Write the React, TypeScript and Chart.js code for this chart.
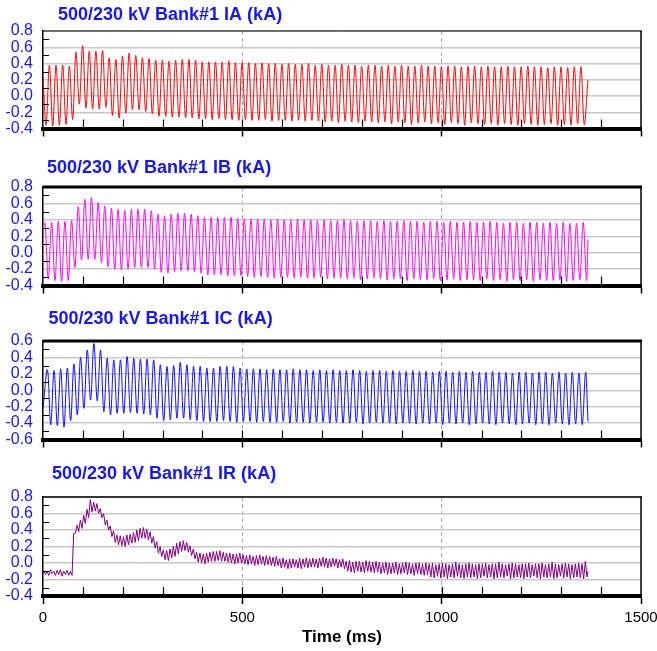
import React, { useEffect, useRef } from 'react';
import { Chart, registerables } from 'chart.js';

Chart.register(...registerables);

// ---------------- DATA ----------------
const TITLES = [
  '500/230 kV Bank#1 IA (kA)',
  '500/230 kV Bank#1 IB (kA)',
  '500/230 kV Bank#1 IC (kA)',
  '500/230 kV Bank#1 IR (kA)',
];
const X_AXIS_TITLE = 'Time (ms)';
const X_MIN = 0;
const X_MAX = 1500;
const X_MAJOR_STEP = 500;
const X_MINOR_STEP = 100;
const Y_STEP = 0.2;
const Y_RANGE_ABC = [-0.4, 0.8];
const Y_RANGE_C = [-0.6, 0.6];
const Y_RANGE_R = [-0.4, 0.8];

const RECORD_END_MS = 1367;
const CYCLE_MS = 1000 / 60;   // 60 Hz phase current
const RIPPLE_MS = 1000 / 120; // residual ripple

// IA: first extreme is a trough at 7.7 ms, then peak, alternating every half cycle
const IA_START = 0.25;
const IA_END = 0.2;
const IA_FIRST_MS = 7.7;
const IA_TROUGHS = [
  -0.36, -0.37, -0.36, -0.35, -0.29, -0.10, -0.15, -0.16, -0.16, -0.14,
  -0.24, -0.27, -0.21, -0.17, -0.17, -0.19, -0.22, -0.25, -0.25, -0.26,
  -0.26, -0.27, -0.27, -0.28, -0.28, -0.29, -0.28, -0.29, -0.29, -0.30,
  -0.29, -0.30, -0.30, -0.29, -0.31, -0.30, -0.30, -0.31, -0.30, -0.31,
  -0.30, -0.31, -0.32, -0.31, -0.33, -0.31, -0.32, -0.33, -0.31, -0.32,
  -0.33, -0.32, -0.34, -0.32, -0.33, -0.35, -0.33, -0.32, -0.34, -0.33,
  -0.35, -0.33, -0.34, -0.36, -0.33, -0.34, -0.35, -0.34, -0.36, -0.34,
  -0.35, -0.36, -0.34, -0.35, -0.36, -0.35, -0.34, -0.36, -0.35, -0.36,
  -0.34, -0.35,
];
const IA_PEAKS = [
  0.38, 0.38, 0.38, 0.37, 0.54, 0.62, 0.55, 0.55, 0.56, 0.47,
  0.45, 0.49, 0.53, 0.50, 0.47, 0.46, 0.44, 0.44, 0.43, 0.44,
  0.45, 0.45, 0.44, 0.42, 0.42, 0.42, 0.42, 0.43, 0.41, 0.41,
  0.41, 0.40, 0.41, 0.40, 0.40, 0.39, 0.40, 0.39, 0.39, 0.40,
  0.38, 0.39, 0.38, 0.38, 0.39, 0.38, 0.38, 0.37, 0.38, 0.38,
  0.37, 0.38, 0.37, 0.38, 0.37, 0.37, 0.38, 0.37, 0.37, 0.36,
  0.37, 0.37, 0.36, 0.37, 0.37, 0.36, 0.37, 0.36, 0.36, 0.37,
  0.36, 0.36, 0.37, 0.36, 0.36, 0.35, 0.36, 0.36, 0.35, 0.36,
  0.36,
];

// IB: first extreme is a peak at 5 ms
const IB_START = 0.3;
const IB_END = 0.16;
const IB_FIRST_MS = 5;
const IB_PEAKS = [
  0.36, 0.37, 0.38, 0.38, 0.39, 0.56, 0.65, 0.67, 0.61, 0.57,
  0.54, 0.53, 0.52, 0.53, 0.53, 0.53, 0.51, 0.47, 0.45, 0.47,
  0.48, 0.48, 0.47, 0.45, 0.43, 0.43, 0.43, 0.43, 0.43, 0.42,
  0.41, 0.41, 0.41, 0.41, 0.40, 0.41, 0.40, 0.40, 0.41, 0.40,
  0.40, 0.39, 0.40, 0.39, 0.39, 0.40, 0.39, 0.38, 0.39, 0.39,
  0.38, 0.39, 0.38, 0.38, 0.39, 0.38, 0.38, 0.37, 0.38, 0.38,
  0.37, 0.38, 0.37, 0.37, 0.38, 0.37, 0.37, 0.38, 0.37, 0.36,
  0.37, 0.37, 0.36, 0.37, 0.37, 0.36, 0.37, 0.36, 0.37, 0.36,
  0.36, 0.37,
];
const IB_TROUGHS = [
  -0.32, -0.34, -0.35, -0.34, -0.18, -0.09, -0.08, -0.08, -0.12, -0.17,
  -0.20, -0.21, -0.20, -0.18, -0.18, -0.18, -0.20, -0.24, -0.25, -0.23,
  -0.22, -0.22, -0.23, -0.25, -0.27, -0.27, -0.27, -0.28, -0.28, -0.28,
  -0.29, -0.30, -0.29, -0.30, -0.31, -0.30, -0.30, -0.31, -0.30, -0.31,
  -0.31, -0.30, -0.32, -0.31, -0.31, -0.32, -0.31, -0.33, -0.32, -0.31,
  -0.32, -0.33, -0.32, -0.32, -0.34, -0.32, -0.33, -0.33, -0.32, -0.34,
  -0.33, -0.32, -0.34, -0.33, -0.33, -0.34, -0.32, -0.34, -0.33, -0.35,
  -0.33, -0.34, -0.33, -0.35, -0.33, -0.34, -0.34, -0.33, -0.35, -0.34,
  -0.33, -0.34,
];

// IC: first extreme is a peak at 11 ms
const IC_START = -0.22;
const IC_END = -0.38;
const IC_FIRST_MS = 11;
const IC_PEAKS = [
  0.25, 0.24, 0.26, 0.27, 0.32, 0.40, 0.49, 0.57, 0.49, 0.39,
  0.37, 0.37, 0.41, 0.39, 0.38, 0.38, 0.37, 0.31, 0.29, 0.30,
  0.34, 0.31, 0.29, 0.29, 0.27, 0.27, 0.29, 0.29, 0.29, 0.27,
  0.26, 0.26, 0.26, 0.25, 0.26, 0.25, 0.25, 0.26, 0.25, 0.25,
  0.24, 0.25, 0.24, 0.25, 0.24, 0.24, 0.25, 0.24, 0.23, 0.24,
  0.24, 0.23, 0.24, 0.23, 0.23, 0.24, 0.23, 0.23, 0.22, 0.23,
  0.23, 0.22, 0.23, 0.22, 0.23, 0.22, 0.22, 0.23, 0.22, 0.22,
  0.21, 0.22, 0.22, 0.21, 0.22, 0.22, 0.21, 0.22, 0.21, 0.22,
  0.21, 0.22,
];
const IC_TROUGHS = [
  -0.42, -0.43, -0.45, -0.37, -0.30, -0.22, -0.12, -0.13, -0.26, -0.30,
  -0.28, -0.28, -0.27, -0.28, -0.29, -0.30, -0.34, -0.37, -0.36, -0.34,
  -0.34, -0.36, -0.37, -0.38, -0.38, -0.38, -0.37, -0.38, -0.39, -0.38,
  -0.38, -0.39, -0.38, -0.39, -0.39, -0.38, -0.40, -0.39, -0.39, -0.40,
  -0.39, -0.39, -0.40, -0.39, -0.40, -0.40, -0.39, -0.41, -0.40, -0.39,
  -0.40, -0.40, -0.41, -0.40, -0.40, -0.41, -0.40, -0.41, -0.40, -0.42,
  -0.40, -0.41, -0.40, -0.42, -0.41, -0.40, -0.41, -0.42, -0.40, -0.41,
  -0.42, -0.41, -0.40, -0.42, -0.41, -0.42, -0.40, -0.41, -0.42, -0.41,
  -0.42,
];

// IR: ripple highs and lows, first high at 2 ms
const IR_START = -0.12;
const IR_END = -0.1;
const IR_FIRST_MS = 2;
const IR_UPPER = [
  -0.09, -0.10, -0.08, -0.10, -0.09, -0.08, -0.10, -0.09, -0.10, 0.36,
  0.46, 0.52, 0.58, 0.65, 0.77, 0.74, 0.72, 0.66, 0.60, 0.52,
  0.45, 0.39, 0.34, 0.33, 0.32, 0.34, 0.35, 0.37, 0.40, 0.42,
  0.43, 0.41, 0.38, 0.32, 0.26, 0.20, 0.16, 0.15, 0.17, 0.20,
  0.24, 0.26, 0.27, 0.25, 0.21, 0.17, 0.13, 0.12, 0.11, 0.12,
  0.13, 0.14, 0.14, 0.15, 0.13, 0.12, 0.12, 0.11, 0.11, 0.12,
  0.10, 0.09, 0.10, 0.08, 0.09, 0.10, 0.08, 0.09, 0.08, 0.07,
  0.08, 0.05, 0.06, 0.04, 0.05, 0.05, 0.04, 0.06, 0.05, 0.06,
  0.05, 0.06, 0.05, 0.06, 0.07, 0.06, 0.05, 0.06, 0.05, 0.04,
  0.05, 0.02, 0.03, 0.01, 0.02, 0.02, 0.01, 0.03, 0.02, 0.01,
  0.02, 0.01, 0.00, 0.01, 0.00, 0.00, 0.01, -0.01, 0.00, 0.01,
  0.00, -0.01, 0.00, 0.00, -0.01, 0.00, -0.01, 0.00, -0.02, -0.01,
  0.00, -0.01, -0.02, -0.01, 0.01, -0.01, -0.02, -0.01, 0.00, -0.01,
  -0.02, -0.01, -0.01, 0.00, -0.02, -0.01, -0.01, 0.01, -0.01, -0.02,
  -0.01, 0.00, -0.01, -0.02, -0.01, -0.01, 0.00, -0.02, -0.01, -0.01,
  0.00, -0.02, -0.01, 0.01, -0.01, -0.02, -0.01, 0.00, -0.01, -0.02,
  -0.01, 0.00, -0.01, 0.02,
];
const IR_LOWER = [
  -0.14, -0.15, -0.13, -0.15, -0.14, -0.16, -0.14, -0.15, -0.15, 0.36,
  0.38, 0.42, 0.48, 0.55, 0.62, 0.63, 0.60, 0.55, 0.46, 0.40,
  0.32, 0.25, 0.22, 0.21, 0.20, 0.22, 0.24, 0.25, 0.27, 0.30,
  0.30, 0.28, 0.24, 0.18, 0.12, 0.08, 0.04, 0.03, 0.06, 0.08,
  0.11, 0.14, 0.15, 0.13, 0.09, 0.05, 0.01, 0.00, -0.01, 0.01,
  0.02, 0.02, 0.03, 0.02, 0.02, 0.01, 0.00, -0.01, 0.00, 0.00,
  -0.01, -0.02, -0.01, -0.03, -0.02, -0.01, -0.03, -0.02, -0.03, -0.04,
  -0.03, -0.06, -0.05, -0.07, -0.06, -0.05, -0.06, -0.07, -0.05, -0.06,
  -0.05, -0.05, -0.06, -0.04, -0.05, -0.06, -0.05, -0.04, -0.06, -0.05,
  -0.07, -0.10, -0.11, -0.12, -0.10, -0.11, -0.12, -0.10, -0.11, -0.12,
  -0.11, -0.13, -0.12, -0.14, -0.13, -0.12, -0.14, -0.13, -0.12, -0.14,
  -0.13, -0.15, -0.13, -0.14, -0.15, -0.14, -0.17, -0.18, -0.16, -0.18,
  -0.17, -0.19, -0.17, -0.18, -0.16, -0.18, -0.19, -0.17, -0.18, -0.17,
  -0.19, -0.18, -0.16, -0.18, -0.17, -0.19, -0.18, -0.17, -0.18, -0.16,
  -0.19, -0.18, -0.17, -0.18, -0.19, -0.17, -0.18, -0.16, -0.18, -0.19,
  -0.17, -0.18, -0.17, -0.19, -0.18, -0.16, -0.18, -0.17, -0.19, -0.18,
  -0.17, -0.18, -0.19, -0.17,
];

// ---------------- helpers ----------------
type Pt = { x: number; y: number };

function alternating(
  start: number,
  firstAt: number,
  halfStep: number,
  first: number[],
  second: number[],
  end: number
): Pt[] {
  const pts: Pt[] = [{ x: 0, y: start }];
  const n = Math.max(first.length, second.length);
  for (let k = 0; k < n; k++) {
    if (k < first.length) pts.push({ x: firstAt + 2 * halfStep * k, y: first[k] });
    if (k < second.length) pts.push({ x: firstAt + halfStep + 2 * halfStep * k, y: second[k] });
  }
  const kept = pts.filter((p) => p.x < RECORD_END_MS);
  kept.push({ x: RECORD_END_MS, y: end });
  return kept;
}

const FONT = '"Liberation Sans", Arial, Helvetica, sans-serif';
const LABEL_BLUE = 'rgb(22,22,255)';

type PanelCfg = {
  title: string;
  titleX: number;
  titleBaseline: number;
  top: number;
  height: number;
  xAxisHeight: number;
  yRange: number[];
  points: Pt[];
  color: string;
  tension: number;
  topBorder: number;
  bottom: boolean;
};

const PANELS: PanelCfg[] = [
  {
    title: TITLES[0], titleX: 58, titleBaseline: 19.5, top: 0, height: 156, xAxisHeight: 27.5,
    yRange: Y_RANGE_ABC,
    points: alternating(IA_START, IA_FIRST_MS, CYCLE_MS / 2, IA_TROUGHS, IA_PEAKS, IA_END),
    color: 'rgb(255,0,0)', tension: 0.35, topBorder: 1, bottom: false,
  },
  {
    title: TITLES[1], titleX: 47, titleBaseline: 16.8, top: 156, height: 154, xAxisHeight: 24.5,
    yRange: Y_RANGE_ABC,
    points: alternating(IB_START, IB_FIRST_MS, CYCLE_MS / 2, IB_PEAKS, IB_TROUGHS, IB_END),
    color: 'rgb(255,0,255)', tension: 0.35, topBorder: 3, bottom: false,
  },
  {
    title: TITLES[2], titleX: 48.5, titleBaseline: 14, top: 310, height: 156, xAxisHeight: 26.5,
    yRange: Y_RANGE_C,
    points: alternating(IC_START, IC_FIRST_MS, CYCLE_MS / 2, IC_PEAKS, IC_TROUGHS, IC_END),
    color: 'rgb(10,10,255)', tension: 0.35, topBorder: 3, bottom: false,
  },
  {
    title: TITLES[3], titleX: 52, titleBaseline: 12.5, top: 466, height: 185, xAxisHeight: 55,
    yRange: Y_RANGE_R,
    points: alternating(IR_START, IR_FIRST_MS, RIPPLE_MS / 2, IR_UPPER, IR_LOWER, IR_END),
    color: 'rgb(128,0,128)', tension: 0, topBorder: 1.5, bottom: true,
  },
];

function Panel({ cfg }: { cfg: PanelCfg }) {
  const ref = useRef<HTMLCanvasElement>(null);

  useEffect(() => {
    const canvas = ref.current;
    if (!canvas) return;
    const [yMin, yMax] = cfg.yRange;

    const decor = {
      id: 'decor',
      afterDatasetsDraw(chart: any) {
        const { ctx, chartArea: a, scales } = chart;
        const xs = scales.x;
        const ys = scales.y;
        ctx.save();
        ctx.strokeStyle = '#000';
        ctx.lineWidth = 1.2;
        ctx.beginPath();
        for (let v = yMin + Y_STEP / 2; v < yMax - 0.01; v += Y_STEP) {
          const py = Math.round(ys.getPixelForValue(v)) + 0.5;
          ctx.moveTo(a.left, py);
          ctx.lineTo(a.left + 6, py);
        }
        for (let v = X_MIN + X_MINOR_STEP; v < X_MAX; v += X_MINOR_STEP) {
          const px = Math.round(xs.getPixelForValue(v)) + 0.5;
          ctx.moveTo(px, a.bottom);
          ctx.lineTo(px, a.bottom - 9);
        }
        ctx.stroke();
        ctx.lineWidth = cfg.topBorder;
        ctx.beginPath();
        ctx.moveTo(a.left, a.top);
        ctx.lineTo(a.right + 1, a.top);
        ctx.stroke();
        ctx.lineWidth = 1.5;
        ctx.beginPath();
        ctx.moveTo(a.right, a.top);
        ctx.lineTo(a.right, a.bottom);
        ctx.stroke();
        ctx.restore();
      },
      afterDraw(chart: any) {
        const { ctx } = chart;
        ctx.save();
        ctx.font = `bold 18px ${FONT}`;
        ctx.fillStyle = LABEL_BLUE;
        ctx.textAlign = 'left';
        ctx.textBaseline = 'alphabetic';
        ctx.fillText(cfg.title, cfg.titleX, cfg.titleBaseline);
        ctx.restore();
      },
    };

    const chart = new Chart(canvas, {
      type: 'line',
      data: {
        datasets: [
          {
            data: cfg.points,
            borderColor: cfg.color,
            borderWidth: 1,
            pointRadius: 0,
            tension: cfg.tension,
            fill: false,
          },
        ],
      },
      options: {
        animation: false,
        responsive: false,
        maintainAspectRatio: false,
        events: [],
        layout: { padding: { top: 31, right: 16, left: 0, bottom: 0 } },
        plugins: {
          legend: { display: false },
          tooltip: { enabled: false },
          title: { display: false },
        },
        scales: {
          x: {
            type: 'linear',
            min: X_MIN,
            max: X_MAX,
            ticks: {
              stepSize: X_MAJOR_STEP,
              display: cfg.bottom,
              color: '#000',
              font: { family: FONT, size: 15 },
              padding: 5,
              maxRotation: 0,
              autoSkip: false,
              callback: (v: any) => String(Math.round(Number(v))),
            },
            grid: {
              color: (c: any) =>
                c.tick && c.tick.value > X_MIN && c.tick.value < X_MAX ? 'rgb(170,170,170)' : 'rgba(0,0,0,0)',
              lineWidth: 1,
              drawTicks: true,
              tickLength: 8,
              tickColor: '#000',
              tickWidth: 1.5,
            },
            border: { display: true, color: '#000', width: 4, dash: [4, 3] },
            title: {
              display: cfg.bottom,
              text: X_AXIS_TITLE,
              color: '#000',
              font: { family: FONT, size: 17, weight: 'bold' },
              padding: { top: 0, bottom: 3.5 },
            },
            afterFit: (s: any) => {
              s.height = cfg.xAxisHeight;
              s.paddingLeft = 0;
              s.paddingRight = 0;
            },
          },
          y: {
            type: 'linear',
            min: yMin,
            max: yMax,
            ticks: {
              stepSize: Y_STEP,
              autoSkip: false,
              color: LABEL_BLUE,
              font: { family: FONT, size: 16 },
              padding: 10,
              callback: (v: any) => {
                const n = Number(v);
                return Math.abs(n) < 1e-9 ? '0.0' : n.toFixed(1);
              },
            },
            grid: { color: 'rgb(200,200,200)', lineWidth: 1.5, drawTicks: false },
            border: { display: true, color: '#000', width: 1.5 },
            afterFit: (s: any) => {
              s.width = 43;
            },
          },
        },
      },
      plugins: [decor],
    } as any);

    return () => chart.destroy();
  }, [cfg]);

  return (
    <canvas
      ref={ref}
      width={657}
      height={cfg.height}
      style={{ position: 'absolute', left: 0, top: cfg.top, width: 657, height: cfg.height, display: 'block' }}
    />
  );
}

export default function App() {
  return (
    <div style={{ position: 'absolute', left: 0, top: 0, width: 657, height: 651, background: '#fff' }}>
      {PANELS.map((p, i) => (
        <Panel key={i} cfg={p} />
      ))}
    </div>
  );
}
